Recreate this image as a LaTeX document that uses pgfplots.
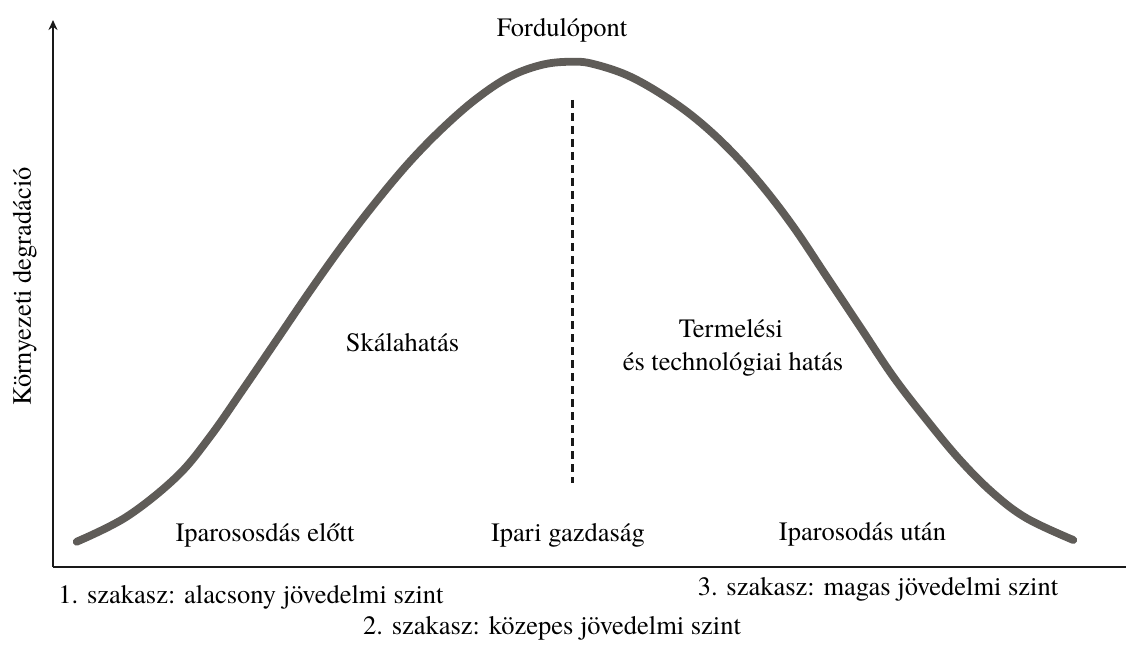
\documentclass[border=0pt]{standalone}
\usepackage{fontspec}
\setmainfont{TeX Gyre Termes}
\usepackage{pgfplots}
\pgfplotsset{compat=1.18}
\usetikzlibrary{arrows.meta}
\definecolor{curvegray}{RGB}{95,92,88}
\definecolor{axisblack}{RGB}{25,25,25}
\begin{document}
\begin{tikzpicture}[lbl/.style={anchor=base, inner sep=0pt, font=\fontsize{26.5}{33}\selectfont}]
\begin{axis}[
  scale only axis, width=1073pt, height=547pt,
  xmin=53, xmax=1126, ymin=0, ymax=547,
  axis lines=left,
  axis line style={line width=1.8pt, color=axisblack},
  x axis line style={-},
  y axis line style={-{Stealth[length=10pt,width=9pt]}},
  ticks=none, clip=false,
]
% environmental Kuznets curve
\addplot[curvegray, line width=7.8pt, line cap=round, smooth, tension=0.6] coordinates {
(76.7,25.3) (126.7,50.3) (176.7,90.3) (210,130.3) (243.3,178) (276.7,227)
(310,276) (343.3,322.7) (376.7,366) (410,405.5) (443.3,439.5) (476.7,468.5)
(510,490.5) (543.3,502.5) (573,505.3) (593.3,503) (626.7,492) (660,473.7)
(693.3,450.3) (726.7,420.3) (760,383.7) (793.3,340.3) (826.7,290.3)
(860,240.3) (893.3,190.3) (926.7,147) (960,107) (993.3,73.7)
(1026.7,48.7) (1073.3,27)
};
% turning point divider
\addplot[axisblack, line width=2.5pt, dash pattern=on 8pt off 5pt] coordinates {(572.5,467) (572.5,84)};

\node[lbl] at (axis cs:562,530.3) {Fordulópont};
\node[lbl] at (axis cs:402.5,215.3) {Skálahatás};
\node[lbl] at (axis cs:731,230) {Termelési};
\node[lbl] at (axis cs:733,197) {és technológiai hatás};
\node[lbl] at (axis cs:265,25.3) {Iparososdás előtt};
\node[lbl] at (axis cs:568,26) {Ipari gazdaság};
\node[lbl] at (axis cs:862.5,27) {Iparosodás után};
\node[lbl] at (axis cs:251,-36) {1. szakasz: alacsony jövedelmi szint};
\node[lbl] at (axis cs:878,-28) {3. szakasz: magas jövedelmi szint};
\node[lbl] at (axis cs:552,-67) {2. szakasz: közepes jövedelmi szint};
\node[lbl, rotate=90] at (axis cs:31,280.5) {Környezeti degradáció};

\coordinate (bbA) at (axis cs:0,567);
\coordinate (bbB) at (axis cs:1126,-79);
\end{axis}
\pgfresetboundingbox
\path[use as bounding box] (bbA) rectangle (bbB);
\end{tikzpicture}
\end{document}
